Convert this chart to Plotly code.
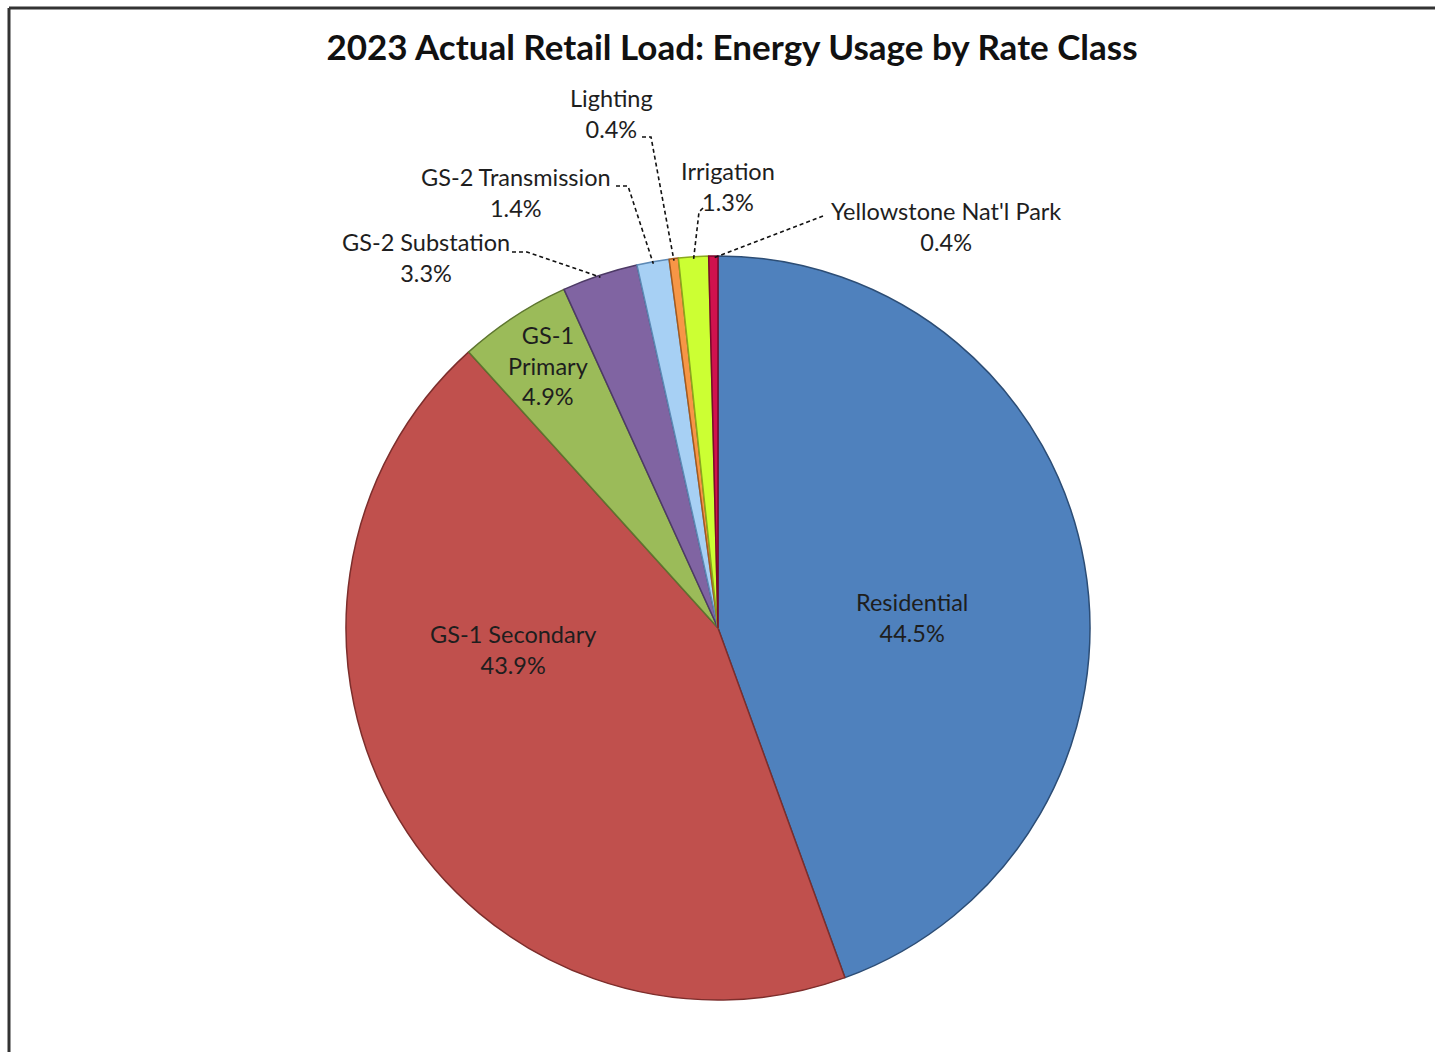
import math
import plotly.graph_objects as go

# ---- data ----
categories = ["Residential", "GS-1 Secondary", "GS-1 Primary", "GS-2 Substation",
              "GS-2 Transmission", "Lighting", "Irrigation", "Yellowstone Nat'l Park"]
shares = [44.5, 43.9, 4.9, 3.3, 1.4, 0.4, 1.3, 0.4]
pct_labels = ["44.5%", "43.9%", "4.9%", "3.3%", "1.4%", "0.4%", "1.3%", "0.4%"]

colors = ["#4F81BD", "#C0504D", "#9BBB59", "#8064A2", "#A7D0F4", "#F79646", "#CCFF33", "#D0124E"]
edge_colors = ["#2C4D75", "#7D2E2C", "#5E7630", "#4D3A66", "#5C89B5", "#A65A1C", "#8AA81E", "#7A0A2C"]

W, H = 1435, 1052
CX, CY, R = 718, 628, 372   # pixel geometry of the pie

def px(x):
    return x / W

def py(y):
    return 1 - y / H

fig = go.Figure(go.Pie(
    labels=categories,
    values=shares,
    sort=False,
    direction="clockwise",
    rotation=0,
    marker=dict(colors=colors, line=dict(color=edge_colors, width=1.5)),
    textinfo="none",
    hoverinfo="label+percent",
    showlegend=False,
    domain=dict(x=[px(CX - R), px(CX + R)], y=[py(CY + R), py(CY - R)]),
))

FONT = "Lato"
TXT = "#1e1e1e"
FS = 23.5
annotations = []

# inside labels
inside = {
    0: (912, 617, "Residential<br>" + pct_labels[0]),
    1: (513, 649, "GS-1 Secondary<br>" + pct_labels[1]),
    2: (548, 365, "GS-1<br>Primary<br>" + pct_labels[2]),
}
for i, (x, y, t) in inside.items():
    annotations.append(dict(x=px(x), y=py(y), xref="paper", yref="paper", text=t,
                            showarrow=False, font=dict(family=FONT, size=FS, color=TXT),
                            xanchor="center", yanchor="middle"))

# outside labels: (label center x, center y, leader line knee points in px)
outside = {
    3: (426, 258, [(512, 252), (527, 252)]),
    4: (516, 193, [(616, 186), (628, 186)]),
    5: (611, 114, [(642, 137), (651, 137)]),
    6: (728, 186, [(703, 208), (699, 212)]),
    7: (946, 226, [(823, 216)]),
}
total = sum(shares)
cum = 0
mids = []
for v in shares:
    mids.append((cum + v / 2) / total * 2 * math.pi)
    cum += v

shapes = []
for i, (x, y, knees) in outside.items():
    annotations.append(dict(x=px(x), y=py(y), xref="paper", yref="paper",
                            text=categories[i] + "<br>" + pct_labels[i],
                            showarrow=False, font=dict(family=FONT, size=FS, color=TXT),
                            xanchor="center", yanchor="middle"))
    a = mids[i]
    ex = CX + (R - 2) * math.sin(a)
    ey = CY - (R - 2) * math.cos(a)
    pts = knees + [(ex, ey)]
    path = "M " + " L ".join(f"{px(p[0]):.5f},{py(p[1]):.5f}" for p in pts)
    shapes.append(dict(type="path", path=path, xref="paper", yref="paper",
                       line=dict(color="#111111", width=1.6, dash="4px,3px")))

# frame (top and left edges)
shapes.append(dict(type="line", xref="paper", yref="paper", x0=px(9), x1=1, y0=py(8), y1=py(8),
                   line=dict(color="#333333", width=3)))
shapes.append(dict(type="line", xref="paper", yref="paper", x0=px(9), x1=px(9), y0=py(8), y1=0,
                   line=dict(color="#333333", width=3)))

fig.update_layout(
    width=W, height=H,
    margin=dict(l=0, r=0, t=0, b=0),
    paper_bgcolor="white", plot_bgcolor="white",
    title=dict(text="<b>2023 Actual Retail Load: Energy Usage by Rate Class</b>",
               x=px(732), xanchor="center", y=py(48), yanchor="middle",
               font=dict(family=FONT, size=35, color="#111111")),
    annotations=annotations,
    shapes=shapes,
)

fig.write_html("out.html", config={"displayModeBar": False},
               post_script="document.body.style.margin='0';document.body.style.overflow='hidden';")
